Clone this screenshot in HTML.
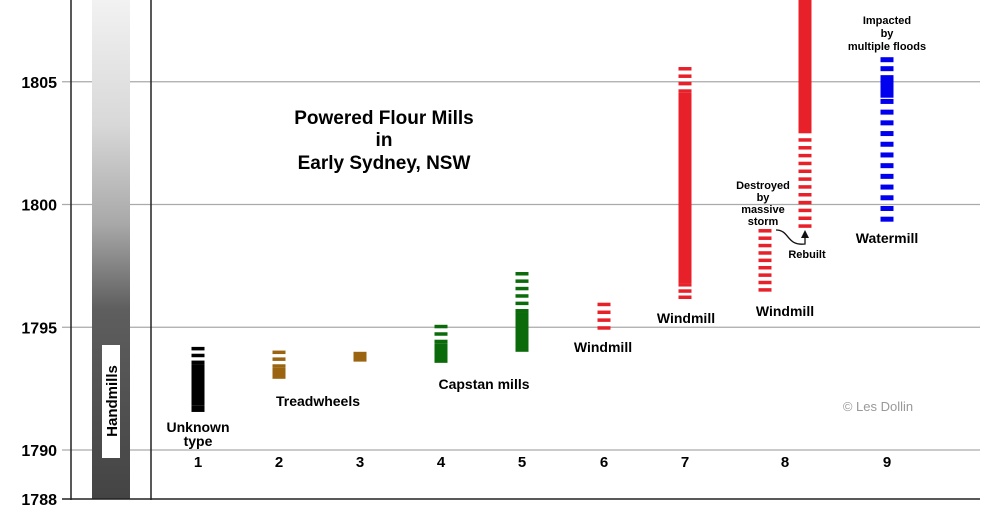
<!DOCTYPE html>
<html><head><meta charset="utf-8"><style>
body{margin:0;background:#fff}
svg{display:block;font-family:"Liberation Sans",Arial,sans-serif;font-weight:bold}
</style></head><body>
<svg id="chart" width="1000" height="527">
<defs><linearGradient id="hg" x1="0" y1="0" x2="0" y2="1"><stop offset="0" stop-color="#f2f2f2"/><stop offset="0.25" stop-color="#d8d8d8"/><stop offset="0.45" stop-color="#a8a8a8"/><stop offset="0.62" stop-color="#5e5e5e"/><stop offset="1" stop-color="#444"/></linearGradient></defs>
<g id="grid"></g>
<rect x="92" y="0" width="38" height="499" fill="url(#hg)"/>
<rect x="102" y="345" width="18" height="113" fill="#fff"/>
<text transform="translate(117,401) rotate(-90)" text-anchor="middle" font-size="15">Handmills</text>
<line x1="71" y1="0" x2="71" y2="500" stroke="#222" stroke-width="1.5"/>
<line x1="151" y1="0" x2="151" y2="500" stroke="#222" stroke-width="1.5"/>
<line x1="62" y1="499" x2="980" y2="499" stroke="#222" stroke-width="1.5"/>
<g id="marks"></g>
<g font-size="19" text-anchor="middle">
<text x="384" y="124">Powered Flour Mills</text><text x="384" y="146">in</text><text x="384" y="169">Early Sydney, NSW</text></g>
<g font-size="14" text-anchor="middle">
<text x="198" y="432">Unknown</text>
<text x="198" y="446">type</text>
<text x="318" y="406">Treadwheels</text>
<text x="484" y="389">Capstan mills</text>
<text x="603" y="352">Windmill</text>
<text x="686" y="323">Windmill</text>
<text x="785" y="316">Windmill</text>
<text x="887" y="243">Watermill</text>
</g>
<g font-size="11" text-anchor="middle">
<text x="763" y="189">Destroyed</text><text x="763" y="201">by</text><text x="763" y="213">massive</text><text x="763" y="225">storm</text></g>
<text x="807" y="258" font-size="11" text-anchor="middle">Rebuilt</text>
<g font-size="11" text-anchor="middle">
<text x="887" y="24">Impacted</text><text x="887" y="37">by</text><text x="887" y="50">multiple floods</text></g>
<path d="M776,230 C790,230 786,246 805,244 L805,234" fill="none" stroke="#111" stroke-width="1.3"/>
<path d="M801,238 L805,230 L809,238 Z" fill="#111"/>
<text x="878" y="411" font-size="13" fill="#999" font-weight="normal" text-anchor="middle">© Les Dollin</text>
</svg>
<script>
const yearTicks=[1790,1795,1800,1805];
const axisLabels=[1788,1790,1795,1800,1805];
const columns=["1","2","3","4","5","6","7","8","9"];
const columnX=[198,279,360,441,522,604,685,785,887];
// segments per mill: [barX, fromYear, toYear, kind]
const millIds=["m1","m2","m3","m4","m5","m6","m7","m8a","m8b","m9"];
const millSegments=[
 [[198,1793.5,1794.2,"d"],[198,1791.8,1793.5,"s"],[198,1791.55,1791.8,"d"]],
 [[279,1792.9,1793.35,"s"],[279,1793.35,1794.05,"d"]],
 [[360,1793.6,1794.0,"s"]],
 [[441,1793.55,1794.35,"s"],[441,1794.35,1795.1,"d"]],
 [[522,1794.0,1795.6,"s"],[522,1795.6,1797.25,"d"]],
 [[604,1794.9,1796.0,"d"]],
 [[685,1804.55,1805.6,"d"],[685,1796.8,1804.55,"s"],[685,1796.15,1796.8,"d"]],
 [[765,1796.45,1799.0,"d"]],
 [[805,1802.9,1808.5,"s"],[805,1799.05,1802.7,"d"]],
 [[887,1804.7,1806.0,"d"],[887,1804.35,1805.25,"s"],[887,1799.3,1804.3,"d"]]
];
const millColors=["#000","#9a6410","#9a6410","#0b6b0b","#0b6b0b","#e8202a","#e8202a","#e8202a","#e8202a","#0000ee"];
const NS="http://www.w3.org/2000/svg";
function y(v){return 450-(v-1790)*24.55;}
const grid=document.getElementById('grid');
yearTicks.forEach(t=>{const l=document.createElementNS(NS,'line');
l.setAttribute('x1',62);l.setAttribute('x2',980);l.setAttribute('y1',y(t));l.setAttribute('y2',y(t));
l.setAttribute('stroke','#aaa');l.setAttribute('stroke-width',1.2);


grid.appendChild(l);});
axisLabels.forEach(t=>{const tx=document.createElementNS(NS,'text');
tx.setAttribute('x',57);tx.setAttribute('y',y(t)+6);tx.setAttribute('text-anchor','end');tx.setAttribute('font-size',16);tx.textContent=t;


grid.appendChild(tx);});
columns.forEach((c,i)=>{const tx=document.createElementNS(NS,'text');
tx.setAttribute('x',columnX[i]);tx.setAttribute('y',467);tx.setAttribute('text-anchor','middle');tx.setAttribute('font-size',15);tx.textContent=c;


grid.appendChild(tx);});
const marks=document.getElementById('marks');
millSegments.forEach((segs,i)=>{
 const g=document.createElementNS(NS,'g');
 
 
 const blue=millIds[i]==="m9";
 segs.forEach(s=>{
  const top=Math.max(0,y(s[2])),bot=y(s[1]);const x=s[0]-6.5;
  if(s[3]==="s"){const r=document.createElementNS(NS,'rect');
   r.setAttribute('x',x);r.setAttribute('y',top);r.setAttribute('width',13);r.setAttribute('height',bot-top);r.setAttribute('fill',millColors[i]);
   
   
   g.appendChild(r);}
  else{const h=blue?5:3.5;const n=Math.max(1,Math.round((bot-top)/(blue?11:8)));const per=n>0?(bot-top-h)/Math.max(1,n):0;
   for(let k=0;k<=n;k++){const p=top+k*per;const r=document.createElementNS(NS,'rect');
    r.setAttribute('x',x);r.setAttribute('y',p);r.setAttribute('width',13);r.setAttribute('height',h);r.setAttribute('fill',millColors[i]);
    
    
    g.appendChild(r);}}
 });
 marks.appendChild(g);});
</script>
</body></html>
